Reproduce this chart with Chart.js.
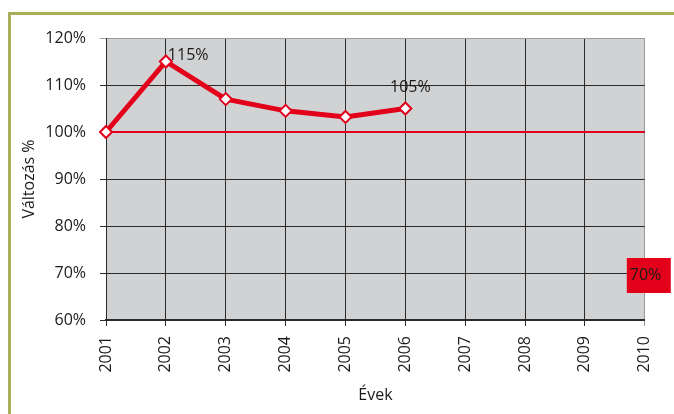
<!DOCTYPE html>
<html>
<head>
<meta charset="utf-8">
<script src="https://cdn.jsdelivr.net/npm/chart.js@4.4.0/dist/chart.umd.min.js"></script>
<style>
    html, body { margin: 0; padding: 0; background: #fff; }
    #wrap { position: relative; width: 674px; height: 414px; overflow: hidden; }
    #frame { position: absolute; left: 8px; top: 12px; right: -10px; bottom: -10px;
             border-left: 3px solid #a8ae5c; border-top: 3px solid #a8ae5c; }
    #chart { position: absolute; left: 0; top: 0; }
</style>
</head>
<body>
<div id="wrap">
    <div id="frame"></div>
    <canvas id="chart" width="674" height="414"></canvas>
</div>
<script>
// Years on the x axis
const years = ['2001', '2002', '2003', '2004', '2005', '2006', '2007', '2008', '2009', '2010'];
// Change in percent, relative to 2001
const changeValues = [100, 115, 107, 104.5, 103.2, 105, null, null, null, null];
// 100% reference line
const baseLine = [100, 100, 100, 100, 100, 100, 100, 100, 100, 100];
// Target marker at the end of the range
const targetValues = [null, null, null, null, null, null, null, null, null, 70];
const yTicks = [60, 70, 80, 90, 100, 110, 120];

const red = '#e2001a';
const textColor = '#1a1a1a';
const fontFamily = '"Open Sans", "Noto Sans", sans-serif';
const fontSize = 16;

// Grey plot background
const plotBackground = {
    id: 'plotBackground',
    beforeDraw(chart) {
        const { ctx, chartArea: a } = chart;
        ctx.save();
        ctx.fillStyle = '#d1d2d4';
        ctx.fillRect(a.left, a.top, a.right - a.left, a.bottom - a.top);
        ctx.restore();
    }
};

// Value labels next to selected points
const valueLabels = {
    id: 'valueLabels',
    afterDatasetsDraw(chart) {
        const { ctx } = chart;
        ctx.save();
        ctx.font = fontSize + 'px ' + fontFamily;
        ctx.textBaseline = 'middle';
        chart.data.datasets.forEach((ds, di) => {
            (ds.valueLabels || []).forEach(lb => {
                const pt = chart.getDatasetMeta(di).data[lb.index];
                const text = Math.round(ds.data[lb.index]) + '%';
                const x = pt.x + lb.dx, y = pt.y + lb.dy;
                ctx.textAlign = lb.align;
                if (lb.box) {
                    ctx.fillStyle = lb.box;
                    ctx.fillRect(x - 3, y - 17, 44, 35);
                }
                ctx.fillStyle = textColor;
                ctx.fillText(text, x, y);
            });
        });
        ctx.restore();
    }
};

new Chart(document.getElementById('chart'), {
    type: 'line',
    data: {
        labels: years,
        datasets: [
            {
                data: baseLine,
                borderColor: red,
                borderWidth: 2,
                pointRadius: 0,
                order: 2
            },
            {
                data: changeValues,
                borderColor: red,
                borderWidth: 5,
                pointStyle: 'rectRot',
                pointRadius: 6,
                pointBorderWidth: 2,
                pointBackgroundColor: '#ffffff',
                pointBorderColor: red,
                spanGaps: false,
                order: 1,
                valueLabels: [
                    { index: 1, dx: 2, dy: -6, align: 'left' },
                    { index: 5, dx: 5, dy: -21, align: 'center' }
                ]
            },
            {
                data: targetValues,
                showLine: false,
                pointRadius: 0,
                valueLabels: [
                    { index: 9, dx: -15, dy: 2, align: 'left', box: red }
                ]
            }
        ]
    },
    options: {
        responsive: false,
        animation: false,
        layout: { padding: { top: 38, right: 28, left: 0, bottom: 0 } },
        plugins: {
            legend: { display: false },
            tooltip: { enabled: false }
        },
        scales: {
            x: {
                grid: {
                    color: ctx => ctx.index === years.length - 1 ? '#9a9a9a' : '#2a2a2a',
                    lineWidth: 1,
                    tickLength: 6,
                    offset: false
                },
                border: { color: '#2a2a2a', width: 2 },
                offset: false,
                ticks: {
                    color: textColor,
                    font: { size: fontSize, family: fontFamily },
                    minRotation: 90,
                    maxRotation: 90,
                    padding: 10,
                    autoSkip: false
                },
                title: {
                    display: true,
                    text: 'Évek',
                    color: textColor,
                    font: { size: fontSize, family: fontFamily },
                    padding: { top: 0, bottom: 9 }
                },
                afterFit(scale) { scale.height = 94; }
            },
            y: {
                min: 60,
                max: 120,
                afterBuildTicks(scale) { scale.ticks = yTicks.map(v => ({ value: v })); },
                grid: {
                    color: ctx => ctx.tick && ctx.tick.value === 120 ? '#9a9a9a' : '#2a2a2a',
                    lineWidth: 1,
                    tickLength: 6
                },
                border: { color: '#2a2a2a', width: 1 },
                ticks: {
                    color: textColor,
                    font: { size: fontSize, family: fontFamily },
                    padding: 14,
                    callback: v => v + '%'
                },
                title: {
                    display: true,
                    text: 'Változás %',
                    color: textColor,
                    font: { size: fontSize, family: fontFamily },
                    padding: { top: 20, bottom: 0 }
                },
                afterFit(scale) { scale.width = 106; }
            }
        }
    },
    plugins: [plotBackground, valueLabels]
});
</script>
</body>
</html>
